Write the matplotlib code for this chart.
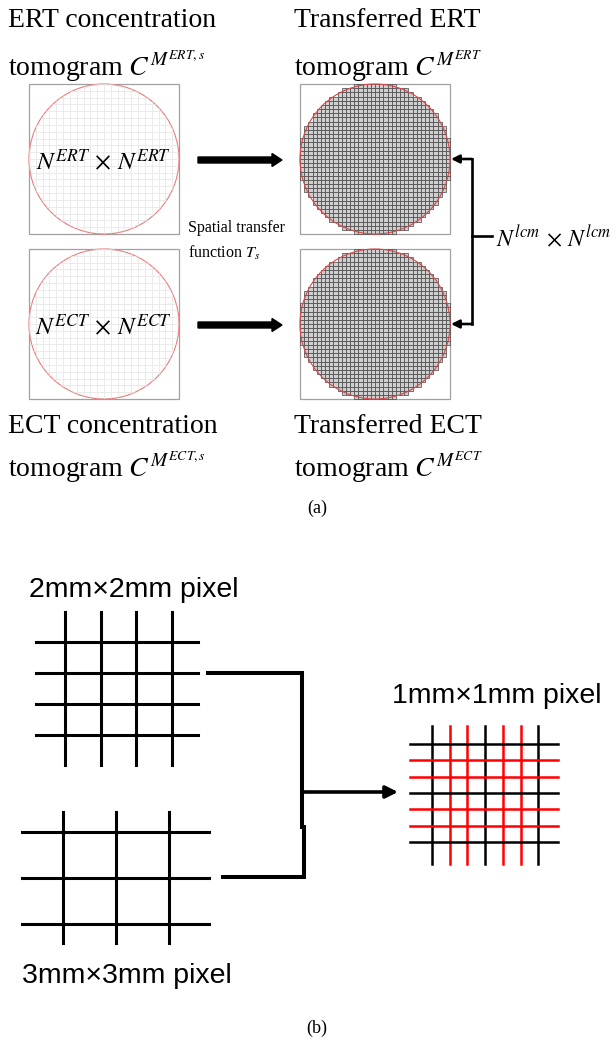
"""
Two-panel schematic: (a) spatial transfer of ERT/ECT tomograms onto a common
lcm grid, (b) combining 2mm and 3mm pixels into a 1mm grid.
"""
import numpy as np
import matplotlib.pyplot as plt
from matplotlib.patches import Circle, Rectangle
from matplotlib.collections import LineCollection, PolyCollection

plt.rcParams['mathtext.fontset'] = 'stix'

# panel (a) text
src_titles = ['ERT concentration', 'ECT concentration']
src_tomo = [r'tomogram $C^{M^{ERT,s}}$', r'tomogram $C^{M^{ECT,s}}$']
dst_titles = ['Transferred ERT', 'Transferred ECT']
dst_tomo = [r'tomogram $C^{M^{ERT}}$', r'tomogram $C^{M^{ECT}}$']
src_sizes = [r'$N^{ERT}\,\times\,N^{ERT}$', r'$N^{ECT}\,\times\,N^{ECT}$']
lcm_size = r'$N^{lcm}\,\times\,N^{lcm}$'
transfer_text = ['Spatial transfer', r'function $T_s$']
n_src_cells = 22
n_lcm_cells = 36

# panel (b) text and grids (line positions in mm)
coarse_labels = ['2mm×2mm pixel', '3mm×3mm pixel']
fine_label = '1mm×1mm pixel'
grid_2mm_v = [0, 2, 4, 6]
grid_2mm_h = [0, 2, 4, 6]
grid_3mm_v = [0, 3, 6]
grid_3mm_h = [0, 3, 6]
fine_lines = [0, 1, 2, 3, 4, 5, 6]
fine_colors = ['black', 'red', 'red', 'black', 'red', 'red', 'black']

SERIF = 'Liberation Serif'
SANS = 'Liberation Sans'


def src_panel(ax, x0, y0, size, n):
    """Box with a red circle and a faint source grid inside it."""
    ax.add_patch(Rectangle((x0, y0), size, size, fill=False, ec='#a0a0a0', lw=0.9))
    clip = Circle((x0 + size / 2, y0 + size / 2), size / 2, fill=False, ec='none')
    ax.add_patch(clip)
    e = np.linspace(0, size, n + 1)
    segs = [[(x0 + v, y0), (x0 + v, y0 + size)] for v in e]
    segs += [[(x0, y0 + v), (x0 + size, y0 + v)] for v in e]
    lc = LineCollection(segs, colors='#e8e8e8', lw=0.6)
    ax.add_collection(lc)
    lc.set_clip_path(clip)
    ax.add_patch(Circle((x0 + size / 2, y0 + size / 2), size / 2, fill=False,
                        ec='#e87b7b', lw=0.8))


def lcm_panel(ax, x0, y0, size, n):
    """Box with the pixelated circle on the common lcm grid."""
    ax.add_patch(Rectangle((x0, y0), size, size, fill=False, ec='#a0a0a0', lw=0.9))
    step = size / n
    r = size / 2
    cells = []
    for i in range(n):
        for j in range(n):
            cx = x0 + (i + 0.5) * step
            cy = y0 + (j + 0.5) * step
            if np.hypot(cx - x0 - r, cy - y0 - r) <= r + 0.6:
                xa, ya = x0 + i * step, y0 + j * step
                cells.append([(xa, ya), (xa + step, ya), (xa + step, ya + step),
                              (xa, ya + step)])
    ax.add_collection(PolyCollection(cells, facecolors='#cfcfcf',
                                     edgecolors='#454545', linewidths=0.5))
    ax.add_patch(Circle((x0 + r, y0 + r), r, fill=False, ec='#d94848', lw=0.8))


fig = plt.figure(figsize=(6.16, 10.44), dpi=100)
ax = fig.add_axes([0, 0, 1, 1])
ax.set_xlim(0, 616)
ax.set_ylim(1044, 0)
ax.axis('off')

# ---- panel (a) ----
box = 150
box_tops = [84, 249]
arrow_y = [160, 325]
for i in range(2):
    src_panel(ax, 29, box_tops[i], box, n_src_cells)
    lcm_panel(ax, 300, box_tops[i], box, n_lcm_cells)
    ax.text(103, arrow_y[i] + 10, src_sizes[i], ha='center', va='baseline',
            fontsize=18)
    ax.arrow(198, arrow_y[i], 84, 0, width=6, head_width=13, head_length=10,
             length_includes_head=True, fc='k', ec='k')
    ax.annotate('', xy=(451, arrow_y[i] - 1), xytext=(472, arrow_y[i] - 1),
                arrowprops=dict(arrowstyle='-|>', lw=1.9, color='k',
                                mutation_scale=12, shrinkA=0, shrinkB=0))

title_base = [27, 433]
tomo_base = [76, 477]
for i in range(2):
    ax.text(8, title_base[i], src_titles[i], fontsize=20, family=SERIF, va='baseline')
    ax.text(8, tomo_base[i], src_tomo[i], fontsize=20, family=SERIF, va='baseline')
    ax.text(294, title_base[i], dst_titles[i], fontsize=20, family=SERIF, va='baseline')
    ax.text(294, tomo_base[i], dst_tomo[i], fontsize=20, family=SERIF, va='baseline')

ax.text(188, 232, transfer_text[0], fontsize=11.5, family=SERIF, va='baseline')
ax.text(188, 258, transfer_text[1], fontsize=11.5, family=SERIF, va='baseline')

# bracket joining the two transferred tomograms
ax.plot([472, 472], [159, 324], color='k', lw=1.9, solid_capstyle='projecting')
ax.plot([472, 492], [236, 236], color='k', lw=1.9)
ax.text(496, 246, lcm_size, fontsize=17, va='baseline')

ax.text(317, 513, '(a)', fontsize=13, family=SERIF, ha='center', va='baseline')


# ---- panel (b) ----
def coarse_grid(ax, xv, yh, x0, y0, px, py, xr, yr):
    for v in xv:
        ax.plot([x0 + v * px] * 2, yr, color='k', lw=2.2)
    for h in yh:
        ax.plot(xr, [y0 + h * py] * 2, color='k', lw=2.2)


coarse_grid(ax, grid_2mm_v, grid_2mm_h, 65, 642, 17.85, 15.5, (36, 198), (612, 765))
coarse_grid(ax, grid_3mm_v, grid_3mm_h, 63, 832, 17.7, 15.3, (22, 209), (812, 943))

ax.text(29, 597, coarse_labels[0], fontsize=20.5, family=SANS, va='baseline')
ax.text(22, 983, coarse_labels[1], fontsize=20.5, family=SANS, va='baseline')
ax.text(392, 703, fine_label, fontsize=20.5, family=SANS, va='baseline')

# connectors into the fine grid
ax.plot([208, 302, 302], [673, 673, 827], color='k', lw=2.9, solid_joinstyle='miter')
ax.plot([223, 304, 304], [877, 877, 827], color='k', lw=2.9, solid_joinstyle='miter')
ax.annotate('', xy=(398, 792), xytext=(302, 792),
            arrowprops=dict(arrowstyle='-|>', lw=2.6, color='k',
                            mutation_scale=18, shrinkA=0, shrinkB=0))

fine_px = 17.7
for k, c in zip(fine_lines, fine_colors):
    ax.plot([432 + k * fine_px] * 2, [726, 864], color=c, lw=1.8)
for k, c in zip(fine_lines, fine_colors):
    ax.plot([410, 558], [744 + k * 16.3] * 2, color=c, lw=1.8)

ax.text(317, 1033, '(b)', fontsize=13, family=SERIF, ha='center', va='baseline')

fig.savefig('out.png', dpi=100)
